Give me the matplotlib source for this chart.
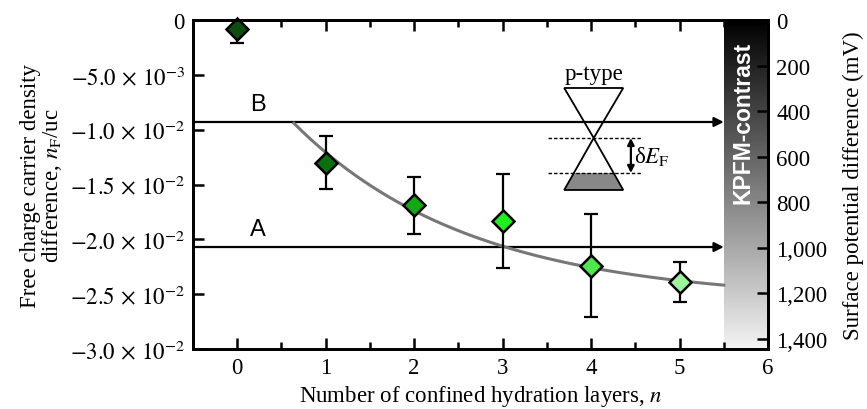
import numpy as np
import matplotlib
matplotlib.use('Agg')
import matplotlib.pyplot as plt
from matplotlib.patches import Polygon

plt.rcParams['font.family'] = ['Liberation Serif', 'DejaVu Serif']
plt.rcParams['mathtext.fontset'] = 'stix'

# 数据: 水合层数 n 与载流子密度差
layers = [0, 1, 2, 3, 4, 5]
n_f = [-0.0008, -0.0130, -0.0169, -0.0183, -0.0224, -0.0239]
n_f_err = [0.0013, 0.0024, 0.0026, 0.0043, 0.0047, 0.0018]
pt_colors = ['#0d4d0d', '#0b6f0b', '#12a812', '#1ef01e', '#4ce84c', '#9cf59c']

# 指数拟合 y = c + A*exp(-n/tau), 画 n=0.64..5.5
fit_c, fit_A, fit_tau = -0.0256, 0.0223, 2.0
fit_range = (0.64, 5.5)

# A / B 水平线 (n_F)
level_names = ['B', 'A']
level_vals = [-0.0093, -0.0207]

y_ticks = [0, -0.005, -0.01, -0.015, -0.02, -0.025, -0.03]
y_ticklabels = ['0', r'$-5.0\,\times\,10^{-3}$', r'$-1.0\,\times\,10^{-2}$',
                r'$-1.5\,\times\,10^{-2}$', r'$-2.0\,\times\,10^{-2}$',
                r'$-2.5\,\times\,10^{-2}$', r'$-3.0\,\times\,10^{-2}$']
sp_ticks = [0, 200, 400, 600, 800, 1000, 1200, 1400]
sp_ticklabels = ['0', '200', '400', '600', '800', '1,000', '1,200', '1,400']

FS = 16.5

fig = plt.figure(figsize=(8.67, 4.10), dpi=100)
ax = fig.add_axes([0.2226, 0.1463, 0.6632, 0.8025])
ax.set_xlim(-0.5, 6)
ax.set_ylim(-0.03, 0)

# KPFM 灰度条
grad = np.linspace(0, 1, 256).reshape(-1, 1)
ax.imshow(grad, cmap='gray', vmin=0, vmax=1.05, extent=[5.5, 6, -0.03, 0],
          aspect='auto', origin='upper', zorder=1)
ax.text(5.72, -0.0093, 'KPFM-contrast', rotation=90, color='white',
        fontweight='bold', fontsize=16.5, family=['Liberation Sans'],
        ha='center', va='center', zorder=2)

for name, v in zip(level_names, level_vals):
    ax.annotate('', xy=(5.5, v), xytext=(-0.5, v),
                arrowprops=dict(arrowstyle='-|>', color='black', lw=1.6,
                                mutation_scale=14, shrinkA=0, shrinkB=0), zorder=3)
    ax.text(0.23, v + 0.0016, name, fontsize=17, family=['Liberation Sans'],
            ha='center', va='center')

xf = np.linspace(*fit_range, 200)
ax.plot(xf, fit_c + fit_A * np.exp(-xf / fit_tau), color='#777777', lw=2.2, zorder=4)

for x, y, e, c in zip(layers, n_f, n_f_err, pt_colors):
    ax.errorbar(x, y, yerr=e, fmt='none', ecolor='black', elinewidth=1.6,
                capsize=5, capthick=1.6, zorder=5)
    ax.plot(x, y, marker='D', ms=11.5, mfc=c, mec='black', mew=1.8,
            linestyle='none', zorder=6, clip_on=False)

# p-type Dirac 锥示意
cx, half = 4.03, 0.3335
y_top, y_apex, y_base, y_fermi = -0.0062, -0.01076, -0.0155, -0.01395
ax.add_patch(Polygon([(cx - half, y_top), (cx + half, y_top), (cx, y_apex)],
                     closed=True, fill=False, ec='black', lw=1.3, zorder=3))
ax.add_patch(Polygon([(cx - half, y_base), (cx + half, y_base), (cx, y_apex)],
                     closed=True, fill=False, ec='black', lw=1.3, zorder=3))
fh = half * (y_apex - y_fermi) / (y_apex - y_base)
ax.add_patch(Polygon([(cx - half, y_base), (cx + half, y_base),
                      (cx + fh, y_fermi), (cx - fh, y_fermi)],
                     closed=True, fc='#888888', ec='none', zorder=2))
for yv in (y_apex, y_fermi):
    ax.plot([3.51, 4.56], [yv, yv], color='black', lw=1.0, ls=(0, (2.5, 1.5)), zorder=3)
ax.annotate('', xy=(4.45, y_apex), xytext=(4.45, y_fermi),
            arrowprops=dict(arrowstyle='<|-|>', color='black', lw=1.6,
                            mutation_scale=10, shrinkA=0, shrinkB=0))
ax.text(4.49, -0.0124, r'δ$E_{\mathrm{F}}$', fontsize=FS, ha='left', va='center')
ax.text(4.03, -0.0049, 'p-type', fontsize=FS, ha='center', va='center')

ax.set_xticks(range(0, 7))
ax.set_xticks(np.arange(-0.5, 6, 0.5), minor=True)
ax.set_yticks(y_ticks)
ax.set_yticklabels(y_ticklabels)
ax.tick_params(which='major', direction='in', length=8, width=1.8, labelsize=FS,
               top=True, pad=6)
ax.tick_params(which='minor', direction='in', length=5, width=1.8, top=True)
ax.tick_params(axis='y', which='minor', left=False, right=False)
ax.set_xlabel('Number of confined hydration layers, $n$', fontsize=FS, labelpad=3)
ax.set_ylabel('Free charge carrier density\ndifference, $n_{\\mathrm{F}}$/uc',
              fontsize=FS, labelpad=4, linespacing=0.95)
for s in ax.spines.values():
    s.set_linewidth(2)

ax2 = ax.twinx()
ax2.set_ylim(1445, 0)
ax2.set_yticks(sp_ticks)
ax2.set_yticklabels(sp_ticklabels)
ax2.tick_params(direction='in', length=8, width=1.8, labelsize=FS, pad=6)
ax2.set_ylabel('Surface potential difference (mV)', fontsize=FS, labelpad=11)
for s in ax2.spines.values():
    s.set_linewidth(2)

fig.savefig('out.png', dpi=100)
